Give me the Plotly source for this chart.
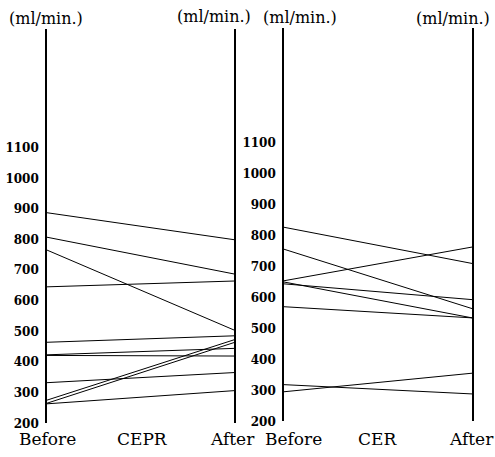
import plotly.graph_objects as go

W, H = 495, 457

stages = ["Before", "After"]
cepr_before = [888, 808, 766, 646, 465, 424, 422, 333, 276, 266, 264]
cepr_after = [800, 688, 505, 665, 486, 445, 420, 366, 473, 464, 307]
cer_before = [828, 757, 655, 651, 645, 571, 319, 296]
cer_after = [711, 565, 764, 535, 594, 535, 289, 356]
tick_vals = list(range(200, 1200, 100))
tick_text = [str(v) for v in tick_vals]

FONT = "DejaVu Serif"

fig = go.Figure()
for b, a in zip(cepr_before, cepr_after):
    fig.add_trace(go.Scatter(x=[0, 1], y=[b, a], mode="lines",
                             line=dict(color="black", width=1), xaxis="x", yaxis="y",
                             showlegend=False, hoverinfo="skip"))
for b, a in zip(cer_before, cer_after):
    fig.add_trace(go.Scatter(x=[0, 1], y=[b, a], mode="lines",
                             line=dict(color="black", width=1), xaxis="x2", yaxis="y2",
                             showlegend=False, hoverinfo="skip"))

def px(x):
    return x / W

def py(y):
    return (H - y) / H

y_bot_l, y_top_l = 430, 29
y_bot_r, y_top_r = 428, 28
yl_top = 200 + (y_bot_l - y_top_l) / 31.1 * 100
yr_top = 200 + (y_bot_r - y_top_r) / 31.4 * 100

common_y = dict(showline=True, mirror=True, linecolor="black", linewidth=1.6,
                showgrid=False, zeroline=False, ticks="", tickvals=tick_vals,
                ticktext=tick_text,
                tickfont=dict(family=FONT, size=12, color="black", weight="bold"),
                ticklabelstandoff=4)
common_x = dict(showline=False, showgrid=False, zeroline=False, showticklabels=False,
                ticks="", range=[0, 1])

fig.update_layout(
    width=W, height=H,
    margin=dict(l=0, r=0, t=0, b=0),
    paper_bgcolor="white", plot_bgcolor="white",
    xaxis=dict(domain=[px(47), px(234)], anchor="y", **common_x),
    xaxis2=dict(domain=[px(284), px(472)], anchor="y2", **common_x),
    yaxis=dict(domain=[py(y_bot_l), py(y_top_l)], range=[200, yl_top], anchor="x", **common_y),
    yaxis2=dict(domain=[py(y_bot_r), py(y_top_r)], range=[200, yr_top], anchor="x2", **common_y),
)

top_anns = [("(ml/min.)", 46, 19), ("(ml/min.)", 214, 17),
            ("(ml/min.)", 300, 18), ("(ml/min.)", 453, 19)]
for t, x, y in top_anns:
    fig.add_annotation(text=t, x=px(x), y=py(y), xref="paper", yref="paper",
                       xanchor="center", yanchor="middle", showarrow=False,
                       font=dict(family=FONT, size=16, color="black"))

bottom_anns = [("Before", 47), ("CEPR", 142), ("After", 232),
               ("Before", 293), ("CER", 377), ("After", 471)]
for t, x in bottom_anns:
    fig.add_annotation(text=t, x=px(x), y=0, xref="paper", yref="paper",
                       xanchor="center", yanchor="bottom", showarrow=False,
                       borderpad=0,
                       font=dict(family=FONT, size=17, color="black"))

fig.write_html("out.html")
